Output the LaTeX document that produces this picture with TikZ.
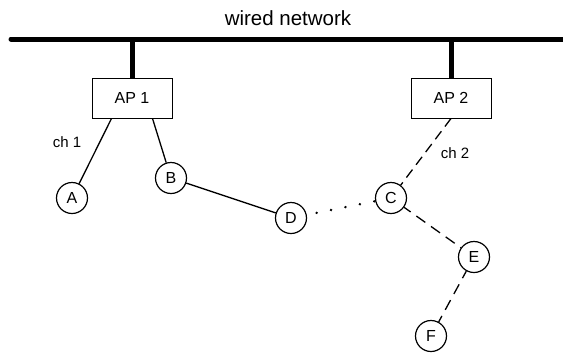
\documentclass[tikz,border=0pt]{standalone}
\usepackage{fontspec}
\setmainfont{Liberation Sans}
\usetikzlibrary{positioning}

\tikzset{
	apbox/.style={draw, line width=1pt, minimum width=80pt, minimum height=40pt, inner sep=0pt, font=\fontsize{16}{19}\selectfont},
	station/.style={draw, circle, line width=1.2pt, minimum size=31pt, inner sep=0pt, font=\fontsize{16}{19}\selectfont},
	wire/.style={line width=5pt},
	link/.style={line width=1.3pt},
	chlabel/.style={font=\fontsize{15}{18}\selectfont}
}

\begin{document}
\begin{tikzpicture}[x=1pt, y=-1pt]
		      		\useasboundingbox (0,0) rectangle (563,354);
		      		
		      		\coordinate (busL) at (11,39);
		      		\coordinate (busR) at (570,39);
		      		\node (net) at (288,18) {\fontsize{20.5}{24}\selectfont wired network};
		      		\draw[wire, line cap=round] (busL) -- (busR);
		      		
		      		\node[apbox] (ap1) at (132,98) {AP 1};
		      		\node[apbox] (ap2) at (451,98) {AP 2};
		      		\draw[wire] (ap1.north) -- (ap1.north |- busL);
		      		\draw[wire] (ap2.north) -- (ap2.north |- busL);
		      		
		      		\node[station] (A) at (72,198) {A};
		      		\node[station] (B) at (171,178) {B};
		      		\node[station] (D) at (291,218) {D};
		      		\node[station] (C) at (391,198) {C};
		      		\node[station] (E) at (474,257) {E};
		      		\node[station] (F) at (431,336) {F};
		      		
		      		\node[chlabel] (ch1) at (67,142) {ch 1};
		      		\node[chlabel] (ch2) at (455,153) {ch 2};
		      		
		      		\draw[link] (ap1.225) -- (A);
		      		\draw[link] (ap1.315) -- (B);
		      		\draw[link] (B) -- (D);
		      		\draw[link, line cap=round, dash pattern=on 0.1pt off 14.6pt, dash phase=-10pt, line width=2.6pt] (D) -- (C);
		      		\draw[link, dash pattern=on 10pt off 6pt] (ap2.south) -- (C);
		      		\draw[link, dash pattern=on 11pt off 7pt, dash phase=3pt] (C) -- (E);
		      		\draw[link, dash pattern=on 11pt off 7pt, dash phase=3pt] (E) -- (F);
		      		
\end{tikzpicture}
\end{document}
